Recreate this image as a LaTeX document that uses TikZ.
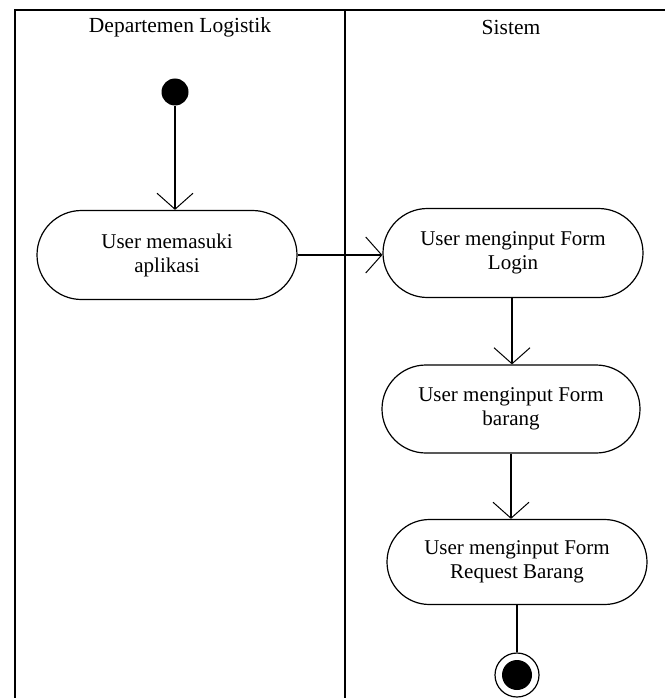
\documentclass[tikz,border=0pt]{standalone}
\usepackage{fontspec}
\setmainfont{Liberation Serif}
\usetikzlibrary{shapes.misc,arrows.meta}
\begin{document}
\begin{tikzpicture}[x=1pt,y=-1pt,
  act/.style={draw,line width=1.2pt,rounded rectangle,minimum width=260pt,minimum height=89pt,inner sep=0pt,align=center,font=\fontsize{21}{24}\selectfont},
  flow/.style={line width=1.1pt,-{Straight Barb[length=16pt,width=36pt,line width=1pt]}},
  lane/.style={line width=2pt},
  hdr/.style={font=\fontsize{21.5}{24}\selectfont}]
\useasboundingbox (0,0) rectangle (665,698);
% swimlanes
\coordinate (tl) at (15,10);
\coordinate (tr) at (665,10);
\coordinate (bl) at (15,698);
\coordinate (dt) at (345,10);
\coordinate (db) at (345,698);
\draw[lane] (bl) -- (tl) -- (tr);
\draw[lane] (dt) -- (db);
\node[hdr] (h1) at (180,27) {Departemen Logistik};
\node[hdr] (h2) at (511,27) {Sistem};
% nodes
\node[circle,fill=black,minimum size=27pt,inner sep=0pt] (start) at (175,92) {};
\node[act] (a1) at (167,255) {User memasuki\\aplikasi};
\node[act] (a2) at (513,253) {User menginput Form\\Login};
\node[act,minimum width=258pt,minimum height=88pt] (a3) at (511,409) {User menginput Form\\barang};
\node[act,minimum height=85pt] (a4) at (517,562) {User menginput Form\\Request Barang};
\node[circle,draw,line width=1.2pt,minimum size=44pt,inner sep=0pt] (end) at (517,675) {};
\node[circle,fill=black,minimum size=30pt,inner sep=0pt] (endin) at (end) {};
% flows
\draw[flow] (start.south) -- (start.south |- a1.north);
\draw[flow] (a1.east) -- (a1.east -| a2.west);
\draw[flow] (a2.south -| 512,0) -- (512,0 |- a3.north);
\draw[flow] (a3.south) -- (a3.south |- a4.north);
\draw[line width=1.1pt] (a4.south) -- (end.north);
\end{tikzpicture}
\end{document}
